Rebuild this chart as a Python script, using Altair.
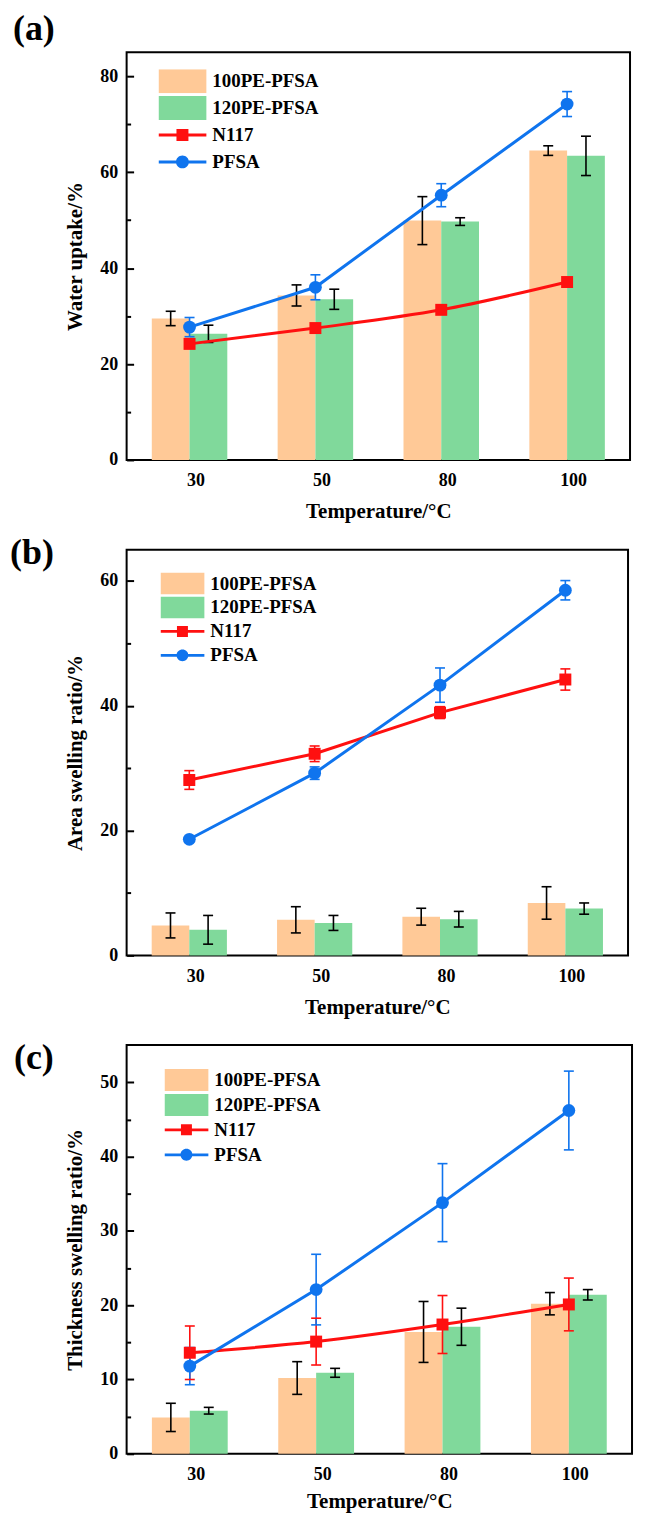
import altair as alt
import pandas as pd

temps = ["30", "50", "80", "100"]
positions = [1, 2, 3, 4]
series_names = ["100PE-PFSA", "120PE-PFSA", "N117", "PFSA"]
series_colors = ["#FFC997", "#80D99B", "#FF1010", "#0F74EE"]

# (a) Water uptake /%
a_pe100 = [29.5, 34.3, 49.9, 64.5]
a_pe100_err = [1.5, 2.2, 5.0, 1.0]
a_pe120 = [26.3, 33.5, 49.7, 63.4]
a_pe120_err = [1.8, 2.1, 0.8, 4.1]
a_n117 = [24.2, 27.5, 31.3, 37.1]
a_n117_err = [0.4, 0.4, 0.4, 0.4]
a_pfsa = [27.7, 36.0, 55.2, 74.2]
a_pfsa_err = [2.0, 2.6, 2.4, 2.6]

# (b) Area swelling ratio /%
b_pe100 = [4.8, 5.7, 6.2, 8.4]
b_pe100_err = [2.0, 2.1, 1.35, 2.6]
b_pe120 = [4.1, 5.2, 5.8, 7.5]
b_pe120_err = [2.3, 1.2, 1.25, 0.9]
b_n117 = [28.1, 32.3, 38.9, 44.2]
b_n117_err = [1.5, 1.25, 0.95, 1.7]
b_pfsa = [18.6, 29.2, 43.3, 58.5]
b_pfsa_err = [0.4, 1.0, 2.75, 1.55]

# (c) Thickness swelling ratio /%
c_pe100 = [4.9, 10.2, 16.4, 20.2]
c_pe100_err = [1.9, 2.2, 4.1, 1.5]
c_pe120 = [5.8, 10.9, 17.1, 21.4]
c_pe120_err = [0.45, 0.6, 2.5, 0.7]
c_n117 = [13.6, 15.1, 17.4, 20.1]
c_n117_err = [3.6, 3.15, 3.9, 3.55]
c_pfsa = [11.8, 22.1, 33.8, 46.2]
c_pfsa_err = [2.5, 4.75, 5.25, 5.3]

FONT = "Liberation Serif"
bar_series = series_names[:2]
bar_shift = {"100PE-PFSA": -0.15, "120PE-PFSA": 0.15, "N117": 0.0, "PFSA": 0.0}
label_expr = "[" + ",".join("'%s'" % t for t in temps) + "][datum.value - 1]"

# legend symbols (custom paths, unit half-width = 1)
legend_paths = [
    "M-1,-0.5H1V0.5H-1Z",
    "M-1,-0.5H1V0.5H-1Z",
    "M-1,-0.0625H1V0.0625H-1Z M-0.25,-0.25H0.25V0.25H-0.25Z",
    "M-1,-0.0625H1V0.0625H-1Z M-0.27,0A0.27,0.27 0 1,1 0.27,0A0.27,0.27 0 1,1 -0.27,0Z",
]


def make_df(vals, errs):
    rows = []
    for name, v, e in zip(series_names, vals, errs):
        for p, t, vv, ee in zip(positions, temps, v, e):
            rows.append({"series": name, "pos": p, "temp": t, "value": vv,
                         "err": ee, "shift": bar_shift[name]})
    return pd.DataFrame(rows)


def build_panel(tag, vals, errs, ytitle, ymax, major_vals, tick_vals, major_step,
                W, H, leg_x, leg_y, sym_size, clip_h, row_pad, title_dx, title_dy,
                smooth, xtitle_pad, ytitle_pad):
    df = make_df(vals, errs)
    base = alt.Chart(df).transform_calculate(
        xc="datum.pos + datum.shift",
        x0="datum.pos + datum.shift - 0.15",
        x1="datum.pos + datum.shift + 0.15",
        lo="datum.value - datum.err",
        hi="datum.value + datum.err",
    )
    xscale = alt.Scale(domain=[0.5, 4.5], nice=False, zero=False)
    yscale = alt.Scale(domain=[0, ymax], nice=False, zero=False)
    xaxis = alt.Axis(values=positions, labelExpr=label_expr, title="Temperature/°C",
                     ticks=False, domain=False, grid=False,
                     labelFont=FONT, labelFontSize=18, labelFontWeight="bold",
                     labelColor="black", labelPadding=12, labelOffset=6,
                     labelAngle=0,
                     titleFont=FONT, titleFontSize=21, titleFontWeight="bold",
                     titleColor="black", titlePadding=xtitle_pad)
    yaxis = alt.Axis(values=major_vals, title=ytitle, ticks=False, domain=False,
                     grid=False, labelFont=FONT, labelFontSize=18,
                     labelFontWeight="bold", labelColor="black", labelPadding=9,
                     titleFont=FONT, titleFontSize=21, titleFontWeight="bold",
                     titleColor="black", titlePadding=ytitle_pad)

    def X(f):
        return alt.X(f + ":Q", scale=xscale, axis=xaxis)

    def Y(f):
        return alt.Y(f + ":Q", scale=yscale, axis=yaxis)

    color_enc = alt.Color("series:N", scale=alt.Scale(domain=series_names, range=series_colors),
                          legend=None)
    is_bar = alt.FieldOneOfPredicate(field="series", oneOf=bar_series)
    is_line = alt.FieldOneOfPredicate(field="series", oneOf=["N117", "PFSA"])

    bars = base.transform_filter(is_bar).mark_rect().encode(
        x=X("x0"), x2="x1:Q", y=Y("value"), y2=alt.datum(0), color=color_enc)
    bar_err = base.transform_filter(is_bar).mark_rule(color="black", strokeWidth=1.6).encode(
        x=X("xc"), y=Y("lo"), y2="hi:Q")
    bar_caps = base.transform_filter(is_bar).transform_fold(
        ["lo", "hi"], as_=["end", "yv"]).mark_tick(
        orient="horizontal", color="black", size=10, thickness=1.6, opacity=1).encode(
        x=X("xc"), y=Y("yv"))
    line_err = base.transform_filter(is_line).mark_rule(strokeWidth=1.6).encode(
        x=X("xc"), y=Y("lo"), y2="hi:Q", color=color_enc)
    line_caps = base.transform_filter(is_line).transform_fold(
        ["lo", "hi"], as_=["end", "yv"]).mark_tick(
        orient="horizontal", size=10, thickness=1.6, opacity=1).encode(
        x=X("xc"), y=Y("yv"), color=color_enc)
    line_n = base.transform_filter(alt.datum.series == "N117").mark_line(
        strokeWidth=3, interpolate="monotone" if smooth else "linear").encode(
        x=X("xc"), y=Y("value"), color=color_enc)
    line_p = base.transform_filter(alt.datum.series == "PFSA").mark_line(
        strokeWidth=3).encode(x=X("xc"), y=Y("value"), color=color_enc)
    mark_n = base.transform_filter(alt.datum.series == "N117").mark_square(
        size=144, opacity=1).encode(x=X("xc"), y=Y("value"), color=color_enc)
    mark_p = base.transform_filter(alt.datum.series == "PFSA").mark_circle(
        size=165, opacity=1).encode(x=X("xc"), y=Y("value"), color=color_enc)

    leg = alt.Legend(title=None, orient="none", legendX=leg_x, legendY=leg_y,
                     padding=0, symbolSize=sym_size, symbolStrokeWidth=0,
                     symbolOpacity=1, labelFont=FONT, labelFontSize=19,
                     labelFontWeight="bold", labelColor="black", labelOffset=6,
                     rowPadding=row_pad, clipHeight=clip_h)
    legend_layer = alt.Chart(df).transform_filter(alt.datum.pos == 1).mark_point(
        filled=True).encode(
        fill=alt.Fill("series:N", scale=alt.Scale(domain=series_names, range=series_colors),
                      legend=leg),
        shape=alt.Shape("series:N", scale=alt.Scale(domain=series_names, range=legend_paths),
                        legend=leg),
        size=alt.Size("pos:Q", scale=alt.Scale(range=[0, 0]), legend=None),
    )

    main = alt.layer(bars, bar_err, bar_caps, line_err, line_caps, line_n, line_p,
                     mark_n, mark_p, legend_layer)

    tick_axis = alt.Axis(orient="right", offset=-W, values=tick_vals,
                         tickSize={"condition": {"test": "datum.value %% %d === 0" % major_step,
                                                 "value": 7}, "value": 4},
                         tickWidth=2, tickColor="black", labels=False, domain=False,
                         grid=False, title=None, zindex=2)
    ticks_layer = alt.Chart(df).transform_filter("false").mark_point().encode(
        y=alt.Y("value:Q", scale=yscale, axis=tick_axis))

    return alt.layer(main, ticks_layer).resolve_scale(y="independent").properties(
        width=W, height=H,
        title=alt.TitleParams(tag, anchor="start", frame="group", dx=title_dx, dy=title_dy,
                              offset=0, baseline="alphabetic", font=FONT, fontSize=36,
                              fontWeight="bold", color="black"))


pa = build_panel("(a)", [a_pe100, a_pe120, a_n117, a_pfsa],
                 [a_pe100_err, a_pe120_err, a_n117_err, a_pfsa_err],
                 "Water uptake/%", 85, [0, 20, 40, 60, 80], list(range(0, 85, 10)), 20,
                 505, 409, 32, 17, 2304, 24, 3, -114, 24, True, 11, 14)
pb = build_panel("(b)", [b_pe100, b_pe120, b_n117, b_pfsa],
                 [b_pe100_err, b_pe120_err, b_n117_err, b_pfsa_err],
                 "Area swelling ratio/%", 65, [0, 20, 40, 60], list(range(0, 65, 10)), 20,
                 503, 407, 34, 23, 1936, 22, 2, -117, 50, False, 11, 14)
pc = build_panel("(c)", [c_pe100, c_pe120, c_n117, c_pfsa],
                 [c_pe100_err, c_pe120_err, c_n117_err, c_pfsa_err],
                 "Thickness swelling ratio/%", 55, [0, 10, 20, 30, 40, 50],
                 list(range(0, 55, 5)), 10,
                 507, 410, 38, 24, 1936, 22, 3, -113, 60, True, 7, 14)

top = alt.vconcat(pa, pb, spacing=11).resolve_scale(
    fill="independent", shape="independent", size="independent"
).resolve_legend(fill="independent", shape="independent", size="independent")
chart = alt.vconcat(top, pc, spacing=21).resolve_scale(
    fill="independent", shape="independent", size="independent"
).resolve_legend(fill="independent", shape="independent", size="independent").properties(
    padding={"left": 1, "top": 0, "right": 5, "bottom": 5}
).configure(background="white").configure_view(stroke="black", strokeWidth=2)

chart.save("out.html", embed_options={"renderer": "svg", "actions": False})
